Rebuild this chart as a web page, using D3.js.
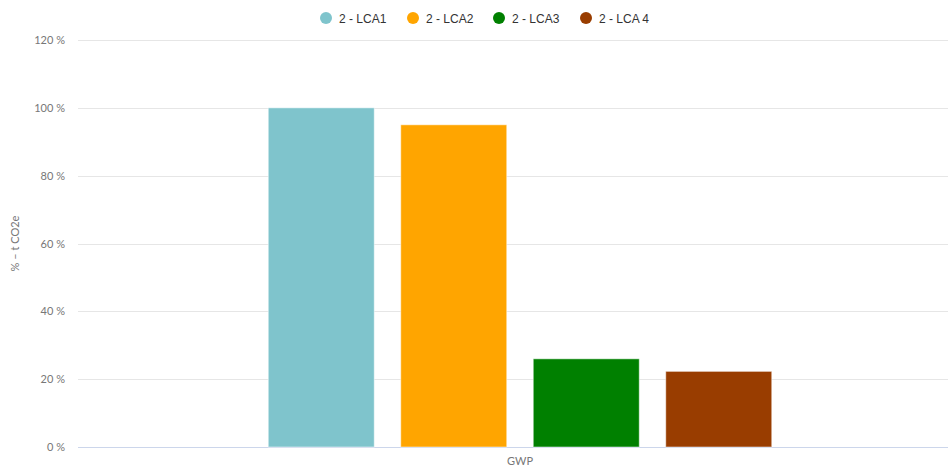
<!DOCTYPE html>
<html>
<head>
<meta charset="utf-8">
<script src="https://cdn.jsdelivr.net/npm/d3@7"></script>
<style>
  body { margin: 0; background: #fff; }
  svg { display: block; }
</style>
</head>
<body>
<div id="chart"></div>
<script>
// Chart data
const categories = ["GWP"];
const seriesNames = ["2 - LCA1", "2 - LCA2", "2 - LCA3", "2 - LCA 4"];
const seriesValues = [100, 95, 26, 22.3];
const seriesColors = ["#7fc4cc", "#ffa500", "#008000", "#993d00"];
const yTicks = [0, 20, 40, 60, 80, 100, 120];

const width = 948;
const height = 467;
const margins = { top: 40, right: -14, bottom: 20, left: 78 };

let svg = d3.select("#chart")
  .append("svg")
  .attr("width", width).attr("height", height);

let plotW = width - margins.left - margins.right;
let plotH = height - margins.top - margins.bottom;

// Scales
let yScale = d3.scaleLinear().domain([0, 120]).range([plotH, 0]);

let xScale = d3.scaleBand().domain(categories).range([0, plotW]);

// inner band scale for the series within the category
let groupW = 530;
let seriesScale = d3.scaleBand()
  .domain(seriesNames)
  .range([xScale("GWP") + xScale.bandwidth() / 2 - groupW / 2,
          xScale("GWP") + xScale.bandwidth() / 2 + groupW / 2])
  .paddingInner(0.2)
  .paddingOuter(0.1);

let color = d3.scaleOrdinal().domain(seriesNames).range(seriesColors);

let plot_g = svg.append("g")
  .attr("transform", "translate(" + margins.left + "," + margins.top + ")");

// Gridlines
plot_g.append("g")
  .selectAll("line")
  .data(yTicks)
  .enter()
  .append("line")
  .attr("x1", 0)
  .attr("x2", plotW)
  .attr("y1", (d) => Math.round(yScale(d)) + 0.5)
  .attr("y2", (d) => Math.round(yScale(d)) + 0.5)
  .attr("stroke", (d) => d === 0 ? "#ccd6eb" : "#e6e6e6")
  .attr("stroke-width", 1);

// Y tick labels
plot_g.append("g")
  .selectAll("text")
  .data(yTicks)
  .enter()
  .append("text")
  .attr("x", -13)
  .attr("y", (d) => yScale(d) + 4)
  .attr("text-anchor", "end")
  .attr("font-family", "Lato, sans-serif")
  .attr("font-size", 11)
  .attr("fill", "#777")
  .text((d) => d + " %");

// Y axis title
svg.append("text")
  .attr("transform", "translate(19," + (margins.top + plotH / 2) + ") rotate(-90)")
  .attr("text-anchor", "middle")
  .attr("font-family", "Lato, sans-serif")
  .attr("font-size", 11)
  .attr("fill", "#777")
  .text("% \u2013 t CO2e");

// Bars
plot_g.append("g")
  .selectAll("rect")
  .data(seriesNames)
  .enter()
  .append("rect")
  .attr("x", (d) => seriesScale(d))
  .attr("y", (d, i) => yScale(seriesValues[i]))
  .attr("width", seriesScale.bandwidth())
  .attr("height", (d, i) => yScale(0) - yScale(seriesValues[i]))
  .attr("fill", (d) => color(d))
  .attr("stroke", "#ffffff")
  .attr("stroke-opacity", 0.5)
  .attr("stroke-width", 1);

// X category label
plot_g.append("g")
  .selectAll("text")
  .data(categories)
  .enter()
  .append("text")
  .attr("x", (d) => xScale(d) + xScale.bandwidth() / 2)
  .attr("y", plotH + 18)
  .attr("text-anchor", "middle")
  .attr("font-family", "Lato, sans-serif")
  .attr("font-size", 11)
  .attr("fill", "#777")
  .text((d) => d);

// Legend
const legendX = [326, 413, 499, 586];
let legend = svg.append("g")
  .selectAll("g")
  .data(seriesNames)
  .enter()
  .append("g")
  .attr("transform", (d, i) => "translate(" + legendX[i] + ",18)");

legend.append("circle")
  .attr("r", 6)
  .attr("fill", (d) => color(d));

legend.append("text")
  .attr("x", 13)
  .attr("y", 4.5)
  .attr("font-family", "'Liberation Sans', Arial, sans-serif")
  .attr("font-size", 12)
  .attr("fill", "#333")
  .text((d) => d);
</script>
</body>
</html>
